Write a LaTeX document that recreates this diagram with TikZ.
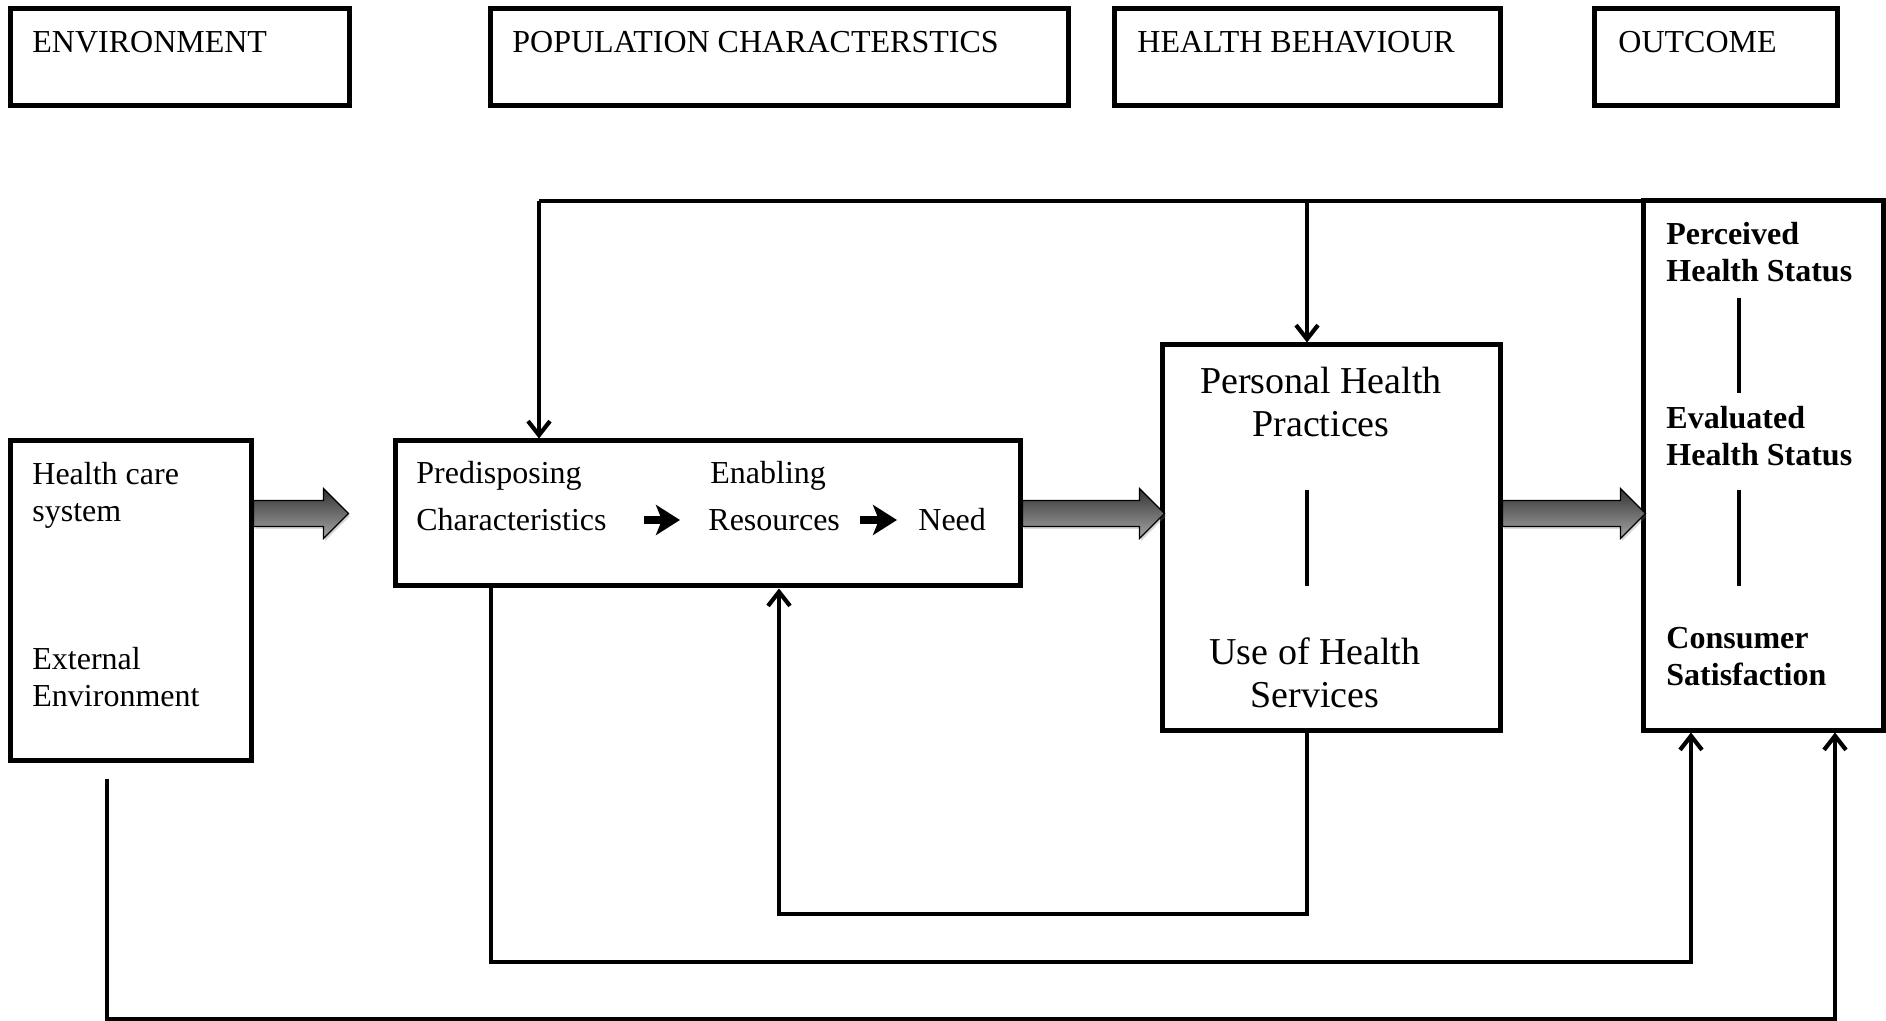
\documentclass[tikz,border=0pt]{standalone}
\usepackage{fontspec}
\setmainfont{Liberation Serif}
\usetikzlibrary{arrows.meta,calc,shadows}

\begin{document}
\begin{tikzpicture}[x=0.5pt,y=-0.5pt,
  box/.style={draw,line width=2.5pt,inner sep=0pt},
  txt/.style={inner sep=0pt,align=left,font=\fontsize{16pt}{18.5pt}\selectfont},
  bigtxt/.style={inner sep=0pt,align=center,font=\fontsize{19pt}{21.5pt}\selectfont},
  boldtxt/.style={txt,font=\fontsize{16pt}{18.5pt}\selectfont\bfseries},
  link/.style={line width=2.1pt},
  linkarrow/.style={link,-{Straight Barb[length=7pt,width=11pt]}},
  wordarrow/.style={line width=4pt,-{Stealth[length=12pt,width=15pt,inset=3pt]}},
  blockarrow/.style={draw=black,line width=0.6pt,top color=black!80,bottom color=black!35,
    drop shadow={shadow xshift=0.8pt,shadow yshift=-1.2pt,opacity=0.3}},
  sep/.style={line width=2.2pt}
]
  \useasboundingbox (0,0) rectangle (1886,1021);

  % Header boxes
  \foreach \nm/\cx/\w/\lx/\lbl in {env/179.5/169.5pt/32/ENVIRONMENT,
      pophd/779/289pt/512/POPULATION CHARACTERSTICS,
      hbhd/1307/193pt/1137/HEALTH BEHAVIOUR,
      outhd/1715.5/121.5pt/1618/OUTCOME} {
    \node[box,minimum width=\w,minimum height=48.5pt] (\nm) at (\cx,57.5) {};
    \node[txt,anchor=west] (\nm-t) at (\lx,42) {\lbl};
  }

  % Main boxes
  \node[box,minimum width=120.5pt,minimum height=159.5pt] (hc) at (130.5,600.5) {};
  \node[box,minimum width=312.5pt,minimum height=72.5pt] (pop) at (707.5,513.5) {};
  \node[box,minimum width=169pt,minimum height=192.5pt] (hb) at (1331,537.5) {};
  \node[box,minimum width=120pt,minimum height=264.5pt] (outc) at (1763,465.5) {};

  % Environment
  \node[txt,anchor=west] (hcs) at (32,495) {Health care\\system};
  \node[txt,anchor=west] (ext) at (32,677) {External\\Environment};

  % Population characteristics
  \node[txt,anchor=west] (pre) at (416,476) {Predisposing};
  \node[txt,anchor=west] (chr) at (416,520) {Characteristics};
  \node[txt,anchor=west] (ena) at (710,476) {Enabling};
  \node[txt,anchor=west] (res) at (708,520) {Resources};
  \node[txt,anchor=west] (need) at (918,520) {Need};
  \draw[wordarrow,shorten <=18.75pt,shorten >=14pt] (chr.east) -- (res.west);
  \draw[wordarrow,shorten <=10pt,shorten >=10.5pt] (res.east) -- (need.west);

  % Health behaviour
  \node[bigtxt] (php) at (1321,402.5) {Personal Health\\Practices};
  \node[bigtxt] (uhs) at (1315,672.5) {Use of Health\\Services};
  \draw[sep] (1307,490) -- (1307,586);

  % Outcome
  \node[boldtxt,anchor=west] (phs) at (1666,252) {Perceived\\Health Status};
  \node[boldtxt,anchor=west] (ehs) at (1666,436) {Evaluated\\Health Status};
  \node[boldtxt,anchor=west] (cs) at (1666,657) {Consumer\\Satisfaction};
  \draw[sep] (1739,298) -- (1739,393);
  \draw[sep] (1739,490) -- (1739,586);

  % Block arrows
  \coordinate (a1) at (hc.east |- pop.east);
  \coordinate (a2) at (pop.east);
  \coordinate (a3) at (hb.east |- pop.east);
  \foreach \s/\sh in {a1/70,a2/117,a3/118}
    \path[blockarrow] (\s) ++(0,-13) -- ++(\sh,0) -- ++(0,-12) -- ++(25,25)
      -- ++(-25,25) -- ++(0,-12) -- ++(-\sh,0) -- cycle;

  % Feedback from outcome (top)
  \coordinate (topL) at (539,201);
  \coordinate (topM) at (1307,201);
  \draw[link] (topL -| outc.west) -- (topL);
  \draw[linkarrow] (topL) -- (topL |- pop.north);
  \draw[linkarrow] (topM) -- (topM |- hb.north);

  % Feedback lines (bottom)
  \coordinate (b1) at (779,914);
  \draw[linkarrow] (hb.south -| topM) |- (b1) -- (b1 |- pop.south);
  \coordinate (b2) at (491,962);
  \coordinate (b2r) at (1691,962);
  \draw[linkarrow] (b2 |- pop.south) -- (b2) -- (b2r) -- (b2r |- outc.south);
  \coordinate (envfree) at (107,779);
  \coordinate (b3r) at (1835,1019);
  \draw[linkarrow] (envfree) |- (b3r) -- (b3r |- outc.south);

\end{tikzpicture}
\end{document}
